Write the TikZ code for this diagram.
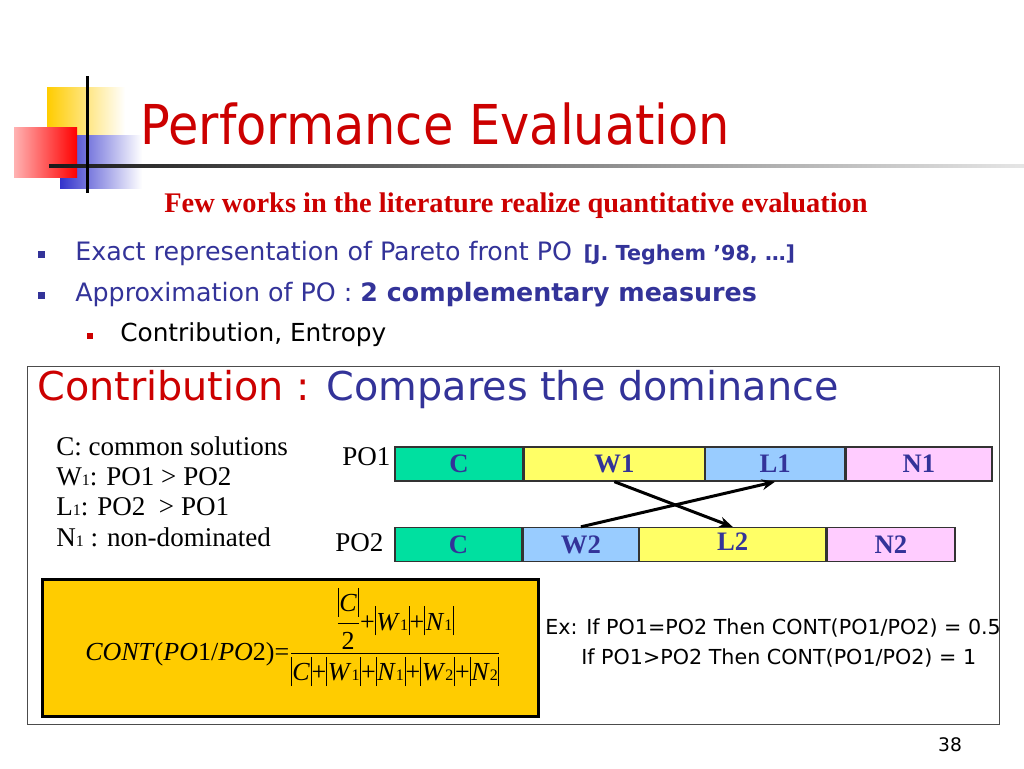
\documentclass[tikz,border=0pt]{standalone}
\usepackage{fontspec}
\usepackage{amsmath}
\setmainfont{Liberation Serif}
\newfontfamily\tahoma{DejaVu Sans}
\newfontfamily\titlefont[FakeStretch=0.9]{DejaVu Sans}
\usetikzlibrary{positioning,arrows.meta,shadings}

\definecolor{titlered}{RGB}{204,0,0}
\definecolor{darkblue}{RGB}{51,51,153}
\definecolor{cgreen}{RGB}{0,224,160}
\definecolor{wyellow}{RGB}{255,255,102}
\definecolor{lblue}{RGB}{153,204,255}
\definecolor{npink}{RGB}{255,204,255}
\definecolor{boxyellow}{RGB}{255,204,0}
\definecolor{decoblue}{RGB}{51,51,204}

\newcommand\lowix[1]{{\fontsize{12}{12}\selectfont #1}}
\newcommand\vb{\rule[-0.2em]{0.7pt}{1.12em}}
\newcommand\absv[1]{\vb\kern0.5pt#1\kern0.5pt\vb}

\tikzset{
  bar/.style={draw=black!80, line width=1pt, minimum height=25.5pt, inner sep=0pt,
    text=darkblue, font=\bfseries\fontsize{20}{20}\selectfont},
  txt/.style={anchor=base west, inner sep=0pt},
  legend/.style={txt, font=\fontsize{20.3}{22}\selectfont},
  arrow/.style={line width=2.25pt, -{Stealth[length=10pt,width=8pt]}}
}

\begin{document}
\begin{tikzpicture}[x=0.75pt,y=-0.75pt]
\useasboundingbox (0,0) rectangle (1024,768);
\fill[white] (0,0) rectangle (1024,768);

% corner decoration
\shade[left color=boxyellow, middle color=boxyellow!85, right color=white] (47,87) rectangle (125,150);
\shade[left color=decoblue, middle color=decoblue!85, right color=white] (60,135) rectangle (142,188);
\shade[left color=red!30, right color=red] (14,127) rectangle (77,177);
\shade[left color=black!90, right color=black!10] (49,164.5) rectangle (1024,167.5);
\draw[line width=2.25pt] (87,76) -- (87,193);

% title
\node[txt, text=titlered, font=\titlefont\fontsize{41.2}{41}\selectfont] (title) at (140,144) {Performance Evaluation};
\node[anchor=base, inner sep=0pt, text=titlered, font=\bfseries\fontsize{21.3}{21}\selectfont] (subtitle) at (516,212) {Few works in the literature realize quantitative evaluation};

% bullets
\fill[darkblue] (38,251) rectangle (45,258);
\fill[darkblue] (38,292) rectangle (45,299);
\fill[titlered] (87,333) rectangle (93,339);
\node[txt, text=darkblue, font=\tahoma\fontsize{19}{19}\selectfont] (exact) at (75,260) {Exact representation of Pareto front PO\hspace{0.45em}{\bfseries\fontsize{15.5}{15}\selectfont [J. Teghem ’98, …]}};
\node[txt, text=darkblue, font=\tahoma\fontsize{19}{19}\selectfont] (approx) at (75,301) {Approximation of PO : {\bfseries 2 complementary measures}};
\node[txt, font=\tahoma\fontsize{18.6}{19}\selectfont] (contrib) at (120,341) {Contribution, Entropy};

% frame and heading
\draw[black!70, line width=0.75pt] (27,366) rectangle (999,724);
\node[txt, font=\tahoma\fontsize{29.8}{30}\selectfont] (heading) at (37,400) {\textcolor{titlered}{Contribution :} \textcolor{darkblue}{Compares the dominance}};

% legend
\node[legend] (lgc) at (56,455) {C: common solutions};
\node[legend] (lgw) at (56,485) {W\lowix{1}: PO1 > PO2};
\node[legend] (lgl) at (56,515) {L\lowix{1}: PO2 \ > PO1};
\node[legend] (lgn) at (56,546) {N\lowix{1} : non-dominated};

% the two fronts
\node[legend] (po1) at (342,465) {PO1};
\node[legend] (po2) at (335,551) {PO2};
\node[bar, fill=cgreen, minimum width=96pt] (c1) at (459,464) {C};
\node[bar, fill=wyellow, minimum width=135pt, right=0pt of c1] (w1) {W1};
\node[bar, fill=lblue, minimum width=104.25pt, right=0pt of w1] (l1) {L1};
\node[bar, fill=npink, minimum width=109.5pt, right=0pt of l1] (n1) {N1};
\node[bar, fill=cgreen, minimum width=95.25pt] (c2) at (458.5,544.5) {C};
\node[bar, fill=lblue, minimum width=86.25pt, right=0pt of c2] (w2) {W2};
\node[bar, fill=wyellow, minimum width=139.5pt, right=0pt of w2] (l2) {\raisebox{4pt}{L2}};
\node[bar, fill=npink, minimum width=96pt, right=0pt of l2] (n2) {N2};
\draw[arrow] (w1.south) -- (l2.north);
\draw[arrow] (w2.north) -- (l1.south);

% formula
\draw[fill=boxyellow, line width=2.25pt] (42,579) rectangle (538,716);
\node[txt, font=\fontsize{19.5}{20}\selectfont] (cont) at (85,660) {\textit{CONT}(\textit{PO}1/\textit{PO}2)=$\dfrac{\mbox{$\dfrac{\mbox{\absv{\textit{C}}}}{\mbox{2}}$+\absv{\textit{W}\lowix{1}}+\absv{\textit{N}\lowix{1}}}}{\mbox{\absv{\textit{C}}+\absv{\textit{W}\lowix{1}}+\absv{\textit{N}\lowix{1}}+\absv{\textit{W}\lowix{2}}+\absv{\textit{N}\lowix{2}}}}$};

% examples
\node[txt, font=\tahoma\fontsize{15.5}{15}\selectfont] (ex1) at (545,634) {Ex: If PO1=PO2 Then CONT(PO1/PO2) = 0.5};
\node[txt, font=\tahoma\fontsize{15.5}{15}\selectfont] (ex2) at (581,664) {If PO1>PO2 Then CONT(PO1/PO2) = 1};

\node[anchor=base, inner sep=0pt, font=\tahoma\fontsize{14}{14}\selectfont] (pnum) at (950,751) {38};
\end{tikzpicture}
\end{document}
